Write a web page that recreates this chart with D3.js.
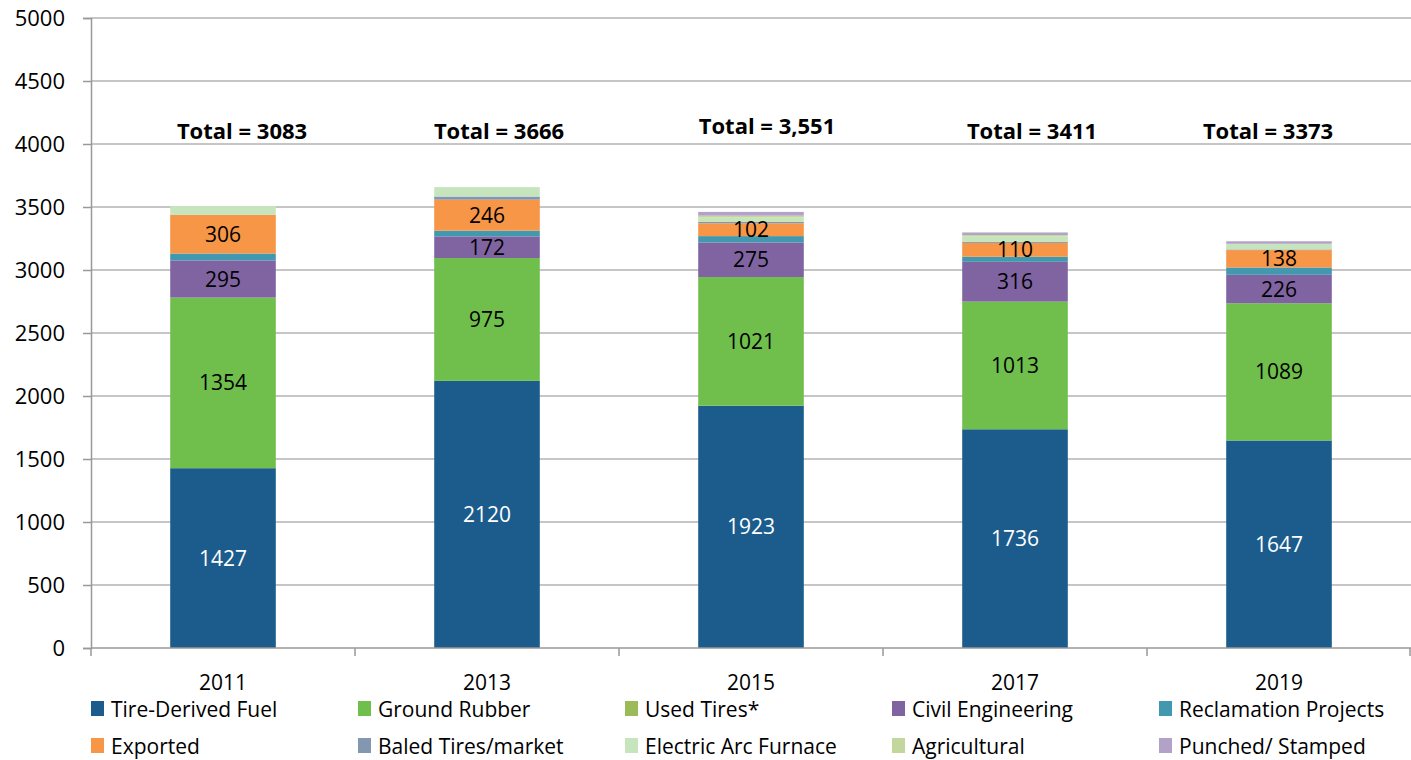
<!DOCTYPE html>
<html>
<head>
<meta charset="utf-8">
<script src="https://cdn.jsdelivr.net/npm/d3@7"></script>
<style>
  body { margin: 0; background: #fff; }
  svg text { font-family: "Open Sans", sans-serif; }
</style>
</head>
<body>
<svg width="1411" height="760"></svg>
<script>
// data
var years = ["2011", "2013", "2015", "2017", "2019"];
var totals = ["Total = 3083", "Total = 3666", "Total = 3,551", "Total = 3411", "Total = 3373"];

var seriesNames = ["Tire-Derived Fuel", "Ground Rubber", "Used Tires*", "Civil Engineering",
  "Reclamation Projects", "Exported", "Baled Tires/market", "Electric Arc Furnace",
  "Agricultural", "Punched/ Stamped"];
var seriesColors = ["#1b5c8d", "#70bf4c", "#9bbb59", "#8064a2", "#4198af",
  "#f79646", "#8497b0", "#c7e5bd", "#c3d69b", "#b3a2c7"];

var tireDerivedFuel = [1427, 2120, 1923, 1736, 1647];
var groundRubber    = [1354, 975, 1021, 1013, 1089];
var usedTires       = [0, 0, 0, 0, 0];
var civilEng        = [295, 172, 275, 316, 226];
var reclamation     = [55, 45, 50, 40, 58];
var exported        = [306, 246, 102, 110, 138];
var baledTires      = [0, 25, 10, 8, 5];
var arcFurnace      = [70, 75, 35, 45, 45];
var agricultural    = [0, 0, 15, 10, 0];
var punched         = [0, 0, 30, 20, 20];

var seriesValues = [tireDerivedFuel, groundRubber, usedTires, civilEng, reclamation,
  exported, baledTires, arcFurnace, agricultural, punched];
var labelled = [true, true, false, true, false, true, false, false, false, false];

var yTicks = d3.range(0, 5001, 500);

var svg = d3.select("svg");
var plotLeft = 91, plotRight = 1411, plotTop = 18, plotBottom = 648;

var x = d3.scaleBand().domain(years).range([plotLeft, plotRight]).paddingInner(0.6).paddingOuter(0.3);
var y = d3.scaleLinear().domain([0, 5000]).range([plotBottom, plotTop]);

// build stacked rows
var rows = years.map(function(yr, i) {
  var r = { year: yr };
  seriesNames.forEach(function(s, k) { r[s] = seriesValues[k][i]; });
  return r;
});
var stacked = d3.stack().keys(seriesNames)(rows);

// gridlines
svg.append("g").selectAll("line").data(yTicks.slice(1)).enter().append("line")
  .attr("x1", plotLeft).attr("x2", plotRight)
  .attr("y1", function(d) { return y(d); }).attr("y2", function(d) { return y(d); })
  .attr("stroke", "#b3b3b3").attr("stroke-width", 1.3);

// bars
var layer = svg.append("g").selectAll("g").data(stacked).enter().append("g")
  .attr("fill", function(d, k) { return seriesColors[k]; });
layer.selectAll("rect").data(function(d) { return d; }).enter().append("rect")
  .attr("x", function(d) { return x(d.data.year); })
  .attr("width", x.bandwidth())
  .attr("y", function(d) { return y(d[1]); })
  .attr("height", function(d) { return y(d[0]) - y(d[1]); });

// value labels
stacked.forEach(function(s, k) {
  if (!labelled[k]) return;
  svg.append("g").selectAll("text").data(s).enter().append("text")
    .attr("x", function(d) { return x(d.data.year) + x.bandwidth() / 2; })
    .attr("y", function(d) { return (y(d[0]) + y(d[1])) / 2; })
    .attr("dy", "0.36em")
    .attr("text-anchor", "middle")
    .attr("font-size", 21)
    .attr("fill", k === 0 ? "#fff" : "#000")
    .text(function(d) { return d[1] - d[0]; });
});

// totals (text boxes sit a little off the bar centres in the original)
var totalY = [131, 131, 126, 131, 131];
var totalDx = [19, 12, 16, 17, -11];
svg.append("g").selectAll("text").data(years).enter().append("text")
  .attr("x", function(d, i) { return x(d) + x.bandwidth() / 2 + totalDx[i]; })
  .attr("y", function(d, i) { return totalY[i]; })
  .attr("dy", "0.36em")
  .attr("text-anchor", "middle")
  .attr("font-size", 22)
  .attr("font-weight", "bold")
  .text(function(d, i) { return totals[i]; });

// y axis
var yAxis = svg.append("g").attr("transform", "translate(" + plotLeft + ",0)")
  .call(d3.axisLeft(y).tickValues(yTicks).tickSize(8).tickPadding(18).tickFormat(d3.format("d")));
yAxis.select(".domain").attr("stroke", "#999").attr("stroke-width", 1.5);
yAxis.selectAll(".tick line").attr("stroke", "#999").attr("stroke-width", 1.5);
yAxis.selectAll("text").attr("font-size", 22).attr("fill", "#000")
  .style("font-family", "'Open Sans', sans-serif");

// x axis (ticks at band boundaries)
var xAxis = svg.append("g").attr("transform", "translate(0," + plotBottom + ")");
xAxis.append("line").attr("x1", plotLeft).attr("x2", plotRight).attr("stroke", "#999").attr("stroke-width", 1.5);
var bounds = years.map(function(d) { return x(d) - x.step() * 0.3; }).concat([plotRight - 1]);
xAxis.selectAll(".bt").data(bounds).enter().append("line")
  .attr("x1", function(d) { return d; }).attr("x2", function(d) { return d; })
  .attr("y1", 0).attr("y2", 8).attr("stroke", "#999").attr("stroke-width", 1.5);
xAxis.selectAll("text").data(years).enter().append("text")
  .attr("x", function(d) { return x(d) + x.bandwidth() / 2; })
  .attr("y", 34)
  .attr("dy", "0.36em")
  .attr("text-anchor", "middle")
  .attr("font-size", 21)
  .text(function(d) { return d; });

// legend
var legend = svg.append("g").selectAll("g").data(seriesNames).enter().append("g")
  .attr("transform", function(d, i) {
    return "translate(" + (91 + (i % 5) * 267) + "," + (709 + Math.floor(i / 5) * 37) + ")";
  });
legend.append("rect").attr("x", 0).attr("y", -8).attr("width", 13).attr("height", 15)
  .attr("fill", function(d, i) { return seriesColors[i]; });
legend.append("text").attr("x", 20).attr("dy", "0.36em").attr("font-size", 21)
  .text(function(d) { return d; });
</script>
</body>
</html>
